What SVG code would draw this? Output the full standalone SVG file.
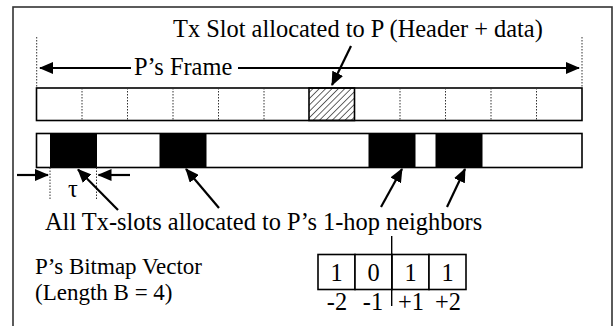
<svg xmlns="http://www.w3.org/2000/svg" width="614" height="326" viewBox="0 0 614 326">
  <style>
    text { font-family: 'Liberation Serif', 'Times New Roman', serif; font-size: 24.4px; fill: #000; }
    .mid { text-anchor: middle; }
    .box { fill: #fff; stroke: #000; stroke-width: 1.6; }
    .dot { stroke: #333; stroke-width: 1; stroke-dasharray: 1.5 1.5; fill: none; }
    .blk { fill: #000; }
    .arr { stroke: #000; stroke-width: 2.2; fill: none; marker-end: url(#head); }
    .side { font-size: 23px; }
  </style>
  <defs>
    <marker id="head" markerUnits="userSpaceOnUse" markerWidth="14" markerHeight="12" refX="13" refY="6" orient="auto">
      <path d="M0,0 L14,6 L0,12 Z" fill="#000"/>
    </marker>
    <pattern id="hatch" patternUnits="userSpaceOnUse" width="4.5" height="4.5" patternTransform="rotate(45)">
      <line x1="0" y1="0" x2="0" y2="4.5" stroke="#000" stroke-width="1.2"/>
    </pattern>
  </defs>

  <rect width="614" height="326" fill="#fff"/>
  <!-- outer border -->
  <rect x="13" y="7" width="599" height="330" fill="none" stroke="#333" stroke-width="1.6"/>

  <!-- P's frame: 12 slots -->
  <g id="frame">
    <rect class="box" x="36.5" y="88" width="545.5" height="32.5"/>
    <rect x="309" y="88" width="45.5" height="32.5" fill="url(#hatch)" stroke="#000" stroke-width="1.6"/>
    <path class="dot" d="M82,88V120.5M127.5,88V120.5M173,88V120.5M218.5,88V120.5M264,88V120.5M400,88V120.5M445.5,88V120.5M491,88V120.5M536.5,88V120.5"/>
    <path class="dot" d="M36.7,37V88M582,37V88"/>
  </g>

  <!-- slots used by 1-hop neighbours -->
  <g id="neighbors">
    <rect class="box" x="36.5" y="133.5" width="545.5" height="34"/>
    <rect class="blk" x="50" y="133.5" width="47" height="34"/>
    <rect class="blk" x="159.5" y="133.5" width="47" height="34"/>
    <rect class="blk" x="368.5" y="133.5" width="47" height="34"/>
    <rect class="blk" x="435.5" y="133.5" width="47" height="34"/>
  </g>

  <!-- slot width marker -->
  <g id="tau">
    <path class="dot" d="M50,167.5V199M96.5,167.5V199"/>
    <text class="mid" x="73" y="197">τ</text>
  </g>

  <!-- bitmap vector -->
  <g id="bitmap">
    <rect class="box" x="318" y="254.5" width="37" height="35"/>
    <rect class="box" x="355" y="254.5" width="37" height="35"/>
    <rect class="box" x="392" y="254.5" width="37" height="35"/>
    <rect class="box" x="429" y="254.5" width="37" height="35" stroke-width="2.2"/>
    <line x1="391.7" y1="236" x2="391.7" y2="306" stroke="#000" stroke-width="1.4"/>
    <text class="mid" x="336.5" y="281">1</text>
    <text class="mid" x="373.5" y="281">0</text>
    <text class="mid" x="410.5" y="281">1</text>
    <text class="mid" x="447.5" y="281">1</text>
    <text class="mid" x="337" y="310">-2</text>
    <text class="mid" x="373" y="310">-1</text>
    <text class="mid" x="411" y="310">+1</text>
    <text class="mid" x="448" y="310">+2</text>
  </g>

  <!-- labels -->
  <g id="labels">
    <text x="173" y="37">Tx Slot allocated to P (Header + data)</text>
    <text x="134" y="75">P’s Frame</text>
    <text x="45" y="230">All Tx-slots allocated to P’s 1-hop neighbors</text>
    <text class="side" x="35" y="274">P’s Bitmap Vector</text>
    <text class="side" x="35" y="300">(Length B = 4)</text>
  </g>

  <!-- connectors -->
  <g id="connectors">
    <path class="arr" d="M131,68H40"/>
    <path class="arr" d="M238,68H579"/>
    <path class="arr" d="M351,46L332,85"/>
    <path class="arr" d="M17,175H48"/>
    <path class="arr" d="M130,175H98.5"/>
    <path class="arr" d="M118,210L78,169.5"/>
    <path class="arr" d="M219,208L186,169"/>
    <path class="arr" d="M381,207L402,169"/>
    <path class="arr" d="M447,207L465,169"/>
  </g>
</svg>
